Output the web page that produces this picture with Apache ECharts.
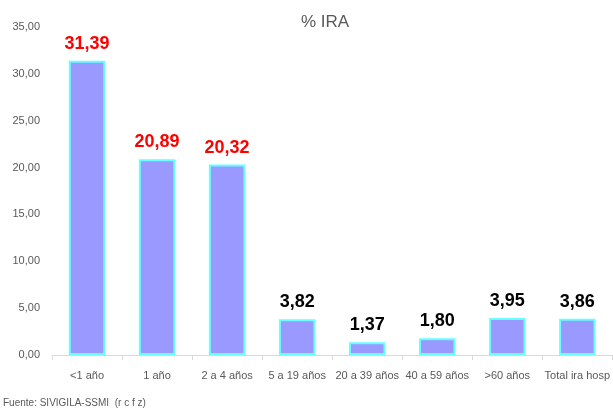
<!DOCTYPE html>
<html>
<head>
<meta charset="utf-8">
<script src="https://cdn.jsdelivr.net/npm/echarts@6/dist/echarts.min.js"></script>
<style>
    html, body { margin: 0; padding: 0; background: #fff; }
    #chart { width: 613px; height: 411px; }
</style>
</head>
<body>
<div id="chart"></div>
<script>
    var categories = ['<1 año', '1 año', '2 a 4 años', '5 a 19 años', '20 a 39 años', '40 a 59 años', '>60 años', 'Total ira hosp'];
    var values = [31.39, 20.89, 20.32, 3.82, 1.37, 1.80, 3.95, 3.86];
    var redCount = 3;

    var font = '"Liberation Sans Narrow", "Liberation Sans", sans-serif';
    var fmt = function (v) { return v.toFixed(2).replace('.', ','); };

    var chartDom = document.getElementById('chart');
    var myChart = echarts.init(chartDom);

    var seriesData = values.map(function (v, i) {
        return {
            value: v,
            label: { color: i < redCount ? '#ff0000' : '#000000' }
        };
    });

    var option = {
        backgroundColor: '#fff',
        title: {
            text: '% IRA',
            left: 320,
            top: 9,
            textAlign: 'center',
            textStyle: { fontFamily: font, fontSize: 17, fontWeight: 'normal', color: '#595959' }
        },
        graphic: [{
            type: 'text',
            left: 3,
            top: 398,
            style: { text: 'Fuente: SIVIGILA-SSMI  (r c f z)', font: '10px ' + font, fill: '#595959' }
        }],
        grid: { left: 52, right: 0, top: 27, bottom: 56 },
        xAxis: {
            type: 'category',
            data: categories,
            axisLine: { lineStyle: { color: '#d9d9d9' } },
            axisTick: { show: true, lineStyle: { color: '#d9d9d9' } },
            axisLabel: { color: '#595959', fontFamily: font, fontSize: 11, margin: 15, interval: 0 }
        },
        yAxis: {
            type: 'value',
            min: 0,
            max: 35,
            interval: 5,
            axisLine: { show: false },
            axisTick: { show: false },
            splitLine: { show: false },
            axisLabel: { color: '#595959', fontFamily: font, fontSize: 11, margin: 12, formatter: fmt }
        },
        series: [{
            type: 'bar',
            barWidth: '52%',
            data: seriesData,
            itemStyle: { color: '#9999ff', borderColor: '#66ffff', borderWidth: 2 },
            label: {
                show: true,
                position: 'top',
                distance: 8,
                fontFamily: font,
                fontSize: 18,
                fontWeight: 'bold',
                formatter: function (p) { return fmt(p.value); }
            }
        }]
    };

    option && myChart.setOption(option);
</script>
</body>
</html>
